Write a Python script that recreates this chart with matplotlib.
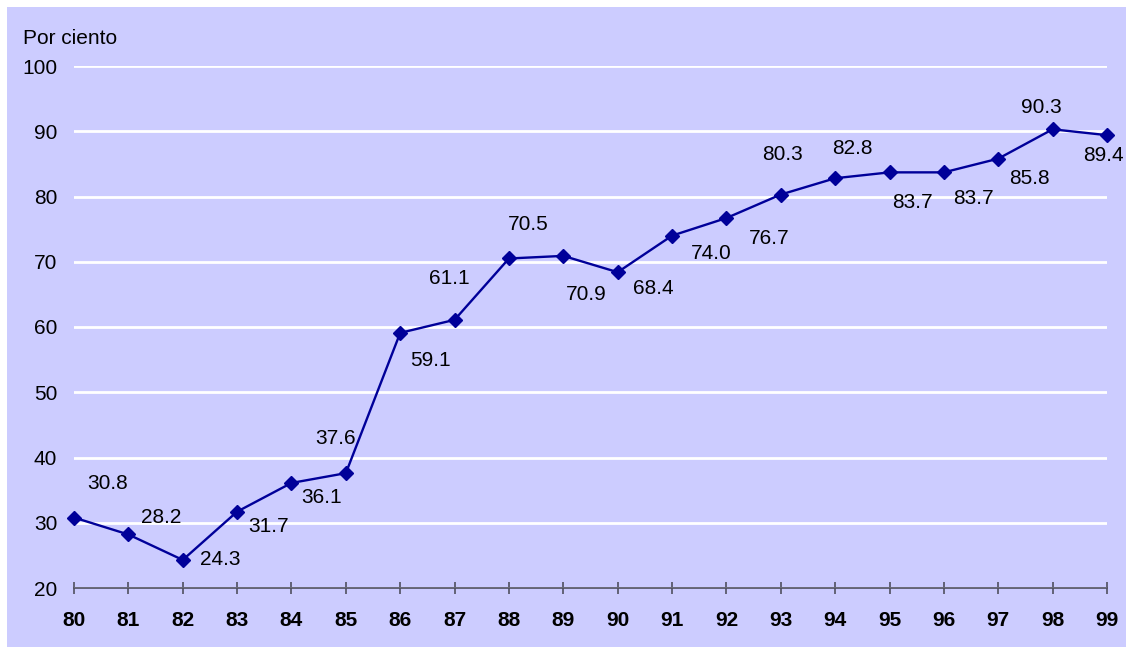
import matplotlib
matplotlib.use("Agg")
import matplotlib.pyplot as plt

years = list(range(80, 100))
year_labels = [str(y) for y in years]
values = [30.8, 28.2, 24.3, 31.7, 36.1, 37.6, 59.1, 61.1, 70.5, 70.9,
          68.4, 74.0, 76.7, 80.3, 82.8, 83.7, 83.7, 85.8, 90.3, 89.4]
y_ticks = [20, 30, 40, 50, 60, 70, 80, 90, 100]

# label offsets in pixels (dx, dy) relative to each point (dy positive = down)
label_offsets = [(34, -34), (33, -17), (38, 0), (31, 15), (30, 15), (-10, -35),
                 (30, 28), (-5, -41), (19, -34), (23, 39), (36, 16), (39, 18),
                 (43, 20), (2, -40), (17, -30), (23, 30), (30, 26), (31, 20),
                 (-11, -22), (-4, 20)]

BG = "#CCCCFF"
LINE = "#000099"
plt.rcParams['font.family'] = ['Liberation Sans', 'DejaVu Sans']

W, H = 1126, 647
fig = plt.figure(figsize=(W / 100, H / 100), dpi=100, facecolor="white")

bg = fig.add_axes([7 / W, 0, 1 - 7 / W, (H - 7) / H], zorder=-5)
bg.set_facecolor(BG)
bg.set_xticks([])
bg.set_yticks([])
for s in bg.spines.values():
    s.set_visible(False)

ax = fig.add_axes([74 / W, 1 - 588 / H, (1107 - 74) / W, (588 - 66) / H], zorder=1)
ax.set_facecolor(BG)
ax.set_xlim(years[0], years[-1])
ax.set_ylim(y_ticks[0], y_ticks[-1])

ax.yaxis.grid(True, color="white", linewidth=2)
ax.set_axisbelow(True)
for s in ("top", "right", "left"):
    ax.spines[s].set_visible(False)
ax.spines["bottom"].set_color("#505060")
ax.spines["bottom"].set_linewidth(1.2)

ax.plot(years, values, color=LINE, linewidth=1.7, marker="D", markersize=7.5,
        markerfacecolor=LINE, markeredgecolor=LINE, clip_on=False, zorder=3)

for x, v, (dx, dy) in zip(years, values, label_offsets):
    ax.annotate(f"{v:.1f}", (x, v), xytext=(dx, -dy), textcoords="offset pixels",
                ha="center", va="center", fontsize=15, color="black")

ax.set_yticks(y_ticks)
ax.set_yticklabels([str(t) for t in y_ticks], fontsize=15)
ax.tick_params(axis="y", length=0, pad=12)
ax.set_xticks(years)
ax.set_xticklabels(year_labels, fontsize=15, fontweight="bold")
ax.tick_params(axis="x", direction="inout", length=9, width=1.2,
               color="#505060", pad=12)

fig.text(23 / W, 1 - 38 / H, "Por ciento", fontsize=15, ha="left", va="center")

fig.savefig("out.png", dpi=100, facecolor=fig.get_facecolor())
